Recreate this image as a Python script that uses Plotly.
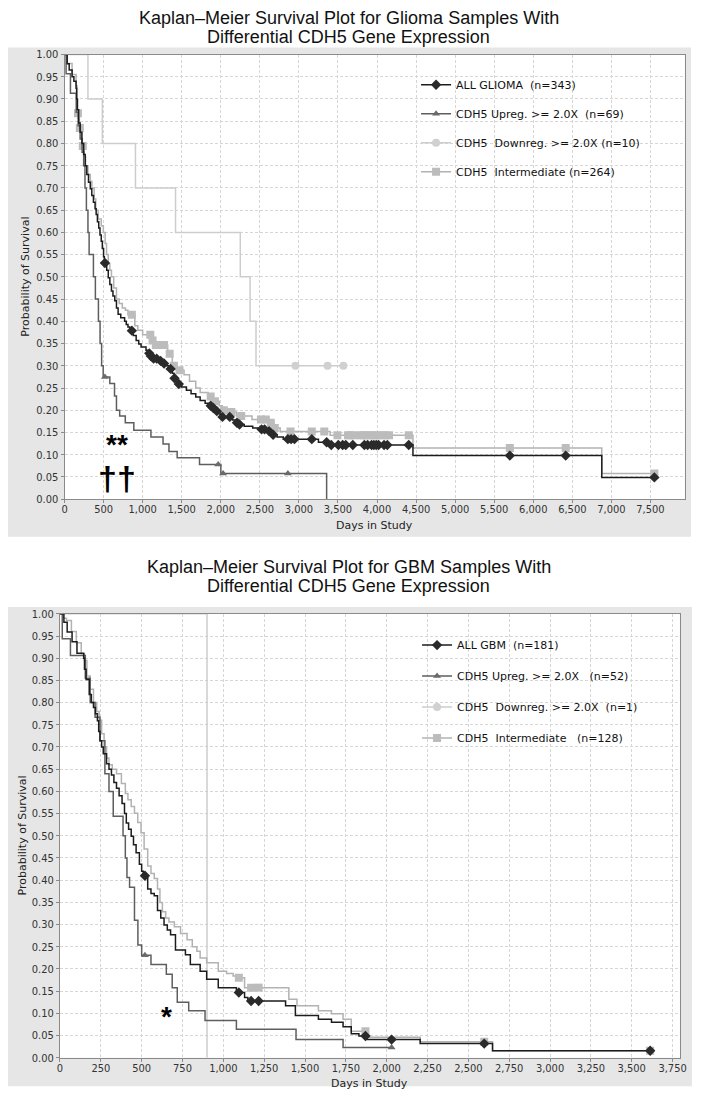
import plotly.graph_objects as go

# ---------------- Glioma (top) ----------------
# event times (days) and survival just after each event
glioma_all_t = [34, 60, 97, 120, 148, 155, 165, 181, 200, 223, 245, 265, 285, 307, 330, 349, 370, 391,
                405, 421, 438, 454, 470, 484, 500, 510, 540, 560, 580, 601, 620, 643, 665, 686, 720,
                769, 790, 812, 835, 880, 917, 950, 980, 1043, 1064, 1095, 1120, 1200, 1250, 1300, 1330,
                1380, 1400, 1440, 1500, 1560, 1620, 1680, 1736, 1800, 1850, 1890, 1930, 1990, 2010,
                2150, 2190, 2230, 2300, 2409, 2480, 2600, 2650, 2720, 2800, 3250, 3380, 4460, 6877]
glioma_all_s = [0.979, 0.965, 0.95, 0.94, 0.924, 0.90, 0.876, 0.846, 0.825, 0.80, 0.775, 0.75, 0.73,
                0.713, 0.698, 0.683, 0.668, 0.653, 0.64, 0.624, 0.61, 0.594, 0.58, 0.564, 0.545, 0.531,
                0.515, 0.498, 0.483, 0.468, 0.457, 0.446, 0.43, 0.416, 0.408, 0.40, 0.393, 0.387,
                0.379, 0.368, 0.357, 0.349, 0.342, 0.335, 0.328, 0.322, 0.316, 0.311, 0.305, 0.30,
                0.293, 0.283, 0.272, 0.259, 0.252, 0.245, 0.237, 0.23, 0.222, 0.216, 0.21, 0.205,
                0.198, 0.191, 0.185, 0.178, 0.172, 0.168, 0.164, 0.16, 0.157, 0.153, 0.145, 0.14,
                0.135, 0.128, 0.122, 0.098, 0.049]
glioma_all_c = [517, 862, 1085, 1105, 1140, 1180, 1230, 1274, 1358, 1408, 1463, 1871, 1905, 1950,
                2022, 2115, 2207, 2240, 2522, 2560, 2619, 2670, 2859, 2900, 2943, 3165, 3355, 3414,
                3505, 3560, 3600, 3690, 3838, 3880, 3930, 3960, 3990, 4020, 4090, 4132, 4406, 5700,
                6415, 7550]

glioma_up_t = [20, 76, 150, 175, 200, 225, 245, 262, 280, 300, 315, 370, 395, 434, 455, 475, 495,
               580, 640, 665, 706, 778, 887, 1106, 1261, 1337, 1442, 1728, 2001, 3355]
glioma_up_s = [0.957, 0.913, 0.87, 0.84, 0.81, 0.78, 0.75, 0.70, 0.65, 0.60, 0.55, 0.50, 0.45, 0.40,
               0.35, 0.30, 0.275, 0.26, 0.232, 0.20, 0.187, 0.172, 0.155, 0.14, 0.124, 0.107, 0.093,
               0.078, 0.058, 0.0]
glioma_up_c = [517, 1967, 2030, 2859]

glioma_down_t = [300, 484, 908, 1421, 2250, 2375, 2451]
glioma_down_s = [0.9, 0.8, 0.7, 0.6, 0.5, 0.4, 0.3]
glioma_down_c = [2956, 3367, 3569]

glioma_mid_t = [34, 97, 148, 160, 165, 190, 215, 228, 250, 270, 300, 330, 350, 380, 400, 430, 470,
                497, 520, 538, 560, 580, 601, 630, 665, 700, 740, 780, 812, 900, 938, 1000, 1110,
                1150, 1320, 1380, 1440, 1530, 1600, 1680, 1736, 1840, 1900, 1980, 2020, 2080, 2200,
                2400, 2600, 2680, 2760, 3400, 4460, 6877]
glioma_mid_s = [0.98, 0.955, 0.93, 0.90, 0.868, 0.835, 0.81, 0.794, 0.77, 0.75, 0.73, 0.715, 0.70,
                0.675, 0.65, 0.63, 0.615, 0.60, 0.575, 0.55, 0.53, 0.515, 0.50, 0.475, 0.45, 0.44,
                0.43, 0.425, 0.415, 0.39, 0.38, 0.37, 0.357, 0.347, 0.327, 0.30, 0.29, 0.28, 0.265,
                0.25, 0.24, 0.231, 0.22, 0.21, 0.20, 0.196, 0.187, 0.179, 0.172, 0.16, 0.152, 0.144,
                0.115, 0.058]
glioma_mid_c = [172, 196, 234, 862, 1098, 1127, 1169, 1200, 1240, 1274, 1346, 1400, 1472, 1871, 1925,
                2039, 2136, 2262, 2514, 2577, 2640, 2691, 2893, 3165, 3325, 3493, 3628, 3660, 3712,
                3796, 3830, 3870, 3920, 3960, 4000, 4050, 4100, 4154, 4406, 5700, 6415, 7550]

# ---------------- GBM (bottom) ----------------
gbm_all_t = [24, 44, 74, 104, 145, 150, 160, 179, 192, 205, 217, 229, 237, 245, 255, 265, 285, 300,
             315, 330, 346, 362, 380, 395, 406, 420, 436, 450, 466, 486, 500, 510, 537, 557, 577,
             597, 617, 637, 657, 677, 707, 768, 798, 858, 898, 969, 1080, 1130, 1150, 1381, 1441,
             1582, 1662, 1733, 1783, 1830, 1880, 2205, 2648]
gbm_all_s = [0.981, 0.959, 0.937, 0.911, 0.90, 0.875, 0.852, 0.818, 0.80, 0.789, 0.775, 0.759,
             0.735, 0.714, 0.70, 0.685, 0.662, 0.65, 0.637, 0.62, 0.607, 0.59, 0.573, 0.55, 0.529,
             0.515, 0.499, 0.48, 0.462, 0.436, 0.42, 0.41, 0.38, 0.37, 0.365, 0.332, 0.315, 0.299,
             0.288, 0.277, 0.243, 0.232, 0.21, 0.195, 0.177, 0.158, 0.147, 0.136, 0.128, 0.117,
             0.095, 0.087, 0.08, 0.07, 0.054, 0.049, 0.041, 0.032, 0.016]
gbm_all_c = [520, 1095, 1170, 1216, 1870, 2030, 2597, 3613]

gbm_up_t = [14, 64, 155, 185, 215, 245, 275, 300, 326, 386, 400, 410, 426, 456, 477, 500, 557, 651,
            687, 718, 788, 888, 1080, 1445, 1733]
gbm_up_s = [0.944, 0.906, 0.855, 0.80, 0.767, 0.714, 0.64, 0.60, 0.544, 0.50, 0.45, 0.406, 0.384,
            0.31, 0.254, 0.231, 0.21, 0.188, 0.158, 0.125, 0.106, 0.084, 0.064, 0.041, 0.023]
gbm_up_c = [520, 2030]

gbm_down_t = [900]
gbm_down_s = [0.0]
gbm_down_c = []

gbm_mid_t = [20, 40, 70, 100, 130, 150, 165, 185, 205, 225, 240, 255, 270, 285, 300, 320, 346, 376,
             400, 416, 436, 456, 476, 496, 515, 537, 557, 577, 597, 612, 627, 647, 667, 700, 738,
             778, 810, 838, 858, 898, 969, 1020, 1060, 1085, 1130, 1401, 1451, 1582, 1662, 1733,
             1783, 1880, 2205, 2648]
gbm_mid_s = [0.99, 0.985, 0.96, 0.935, 0.91, 0.895, 0.86, 0.83, 0.80, 0.78, 0.76, 0.73, 0.70, 0.675,
             0.66, 0.65, 0.64, 0.618, 0.595, 0.581, 0.566, 0.551, 0.53, 0.507, 0.47, 0.432, 0.415,
             0.404, 0.38, 0.35, 0.329, 0.315, 0.306, 0.295, 0.28, 0.266, 0.25, 0.24, 0.225, 0.214,
             0.195, 0.19, 0.184, 0.18, 0.158, 0.132, 0.117, 0.106, 0.099, 0.087, 0.06, 0.046,
             0.036, 0.016]
gbm_mid_c = [1095, 1170, 1216, 1870, 2597, 3613]

glioma_names = ["ALL GLIOMA\u00a0\u00a0(n=343)", "CDH5 Upreg. >= 2.0X\u00a0\u00a0(n=69)",
                "CDH5\u00a0\u00a0Downreg. >= 2.0X (n=10)", "CDH5\u00a0\u00a0Intermediate (n=264)"]
gbm_names = ["ALL GBM\u00a0\u00a0(n=181)", "CDH5 Upreg. >= 2.0X\u00a0\u00a0\u00a0(n=52)",
             "CDH5\u00a0\u00a0Downreg. >= 2.0X\u00a0\u00a0(n=1)", "CDH5\u00a0\u00a0Intermediate\u00a0\u00a0\u00a0(n=128)"]

# page body has an 8px margin, so the figure starts at (8, 8)
OFF = 8
W, H = 701 - OFF, 1105 - OFF
# group styles: line colour, marker colour, symbol, size
styles = [("#1c1c1c", "#2a2a2a", "diamond", 8),
          ("#5e5e5e", "#6a6a6a", "triangle-up", 7),
          ("#cdcdcd", "#d0d0d0", "circle", 8),
          ("#b2b2b2", "#bcbcbc", "square", 8)]


def surv_at(t, ev_t, ev_s):
    s = 1.0
    for a, b in zip(ev_t, ev_s):
        if a <= t:
            s = b
    return s


def add_km(fig, ev_t, ev_s, cens, style, name, xa, ya, leg, grp, rank):
    lc, mc, sym, ms = style
    xs = [0] + ev_t
    ys = [1.0] + ev_s
    if cens and max(cens) > ev_t[-1]:
        xs.append(max(cens))
        ys.append(ev_s[-1])
    fig.add_trace(go.Scatter(x=xs, y=ys, mode="lines", line=dict(color=lc, width=1.5, shape="hv"),
                             xaxis=xa, yaxis=ya, showlegend=False, hoverinfo="skip"))
    if cens:
        fig.add_trace(go.Scatter(x=cens, y=[surv_at(c, ev_t, ev_s) for c in cens], mode="markers",
                                 marker=dict(color=mc, symbol=sym, size=ms),
                                 xaxis=xa, yaxis=ya, showlegend=False))
    # legend entry
    fig.add_trace(go.Scatter(x=[None], y=[None], mode="lines+markers", name=name,
                             line=dict(color=lc, width=1.5), marker=dict(color=mc, symbol=sym, size=ms),
                             xaxis=xa, yaxis=ya, legend=leg, legendgroup=grp, legendrank=rank))


fig = go.Figure()
top = [(glioma_all_t, glioma_all_s, glioma_all_c), (glioma_up_t, glioma_up_s, glioma_up_c),
       (glioma_down_t, glioma_down_s, glioma_down_c), (glioma_mid_t, glioma_mid_s, glioma_mid_c)]
bot = [(gbm_all_t, gbm_all_s, gbm_all_c), (gbm_up_t, gbm_up_s, gbm_up_c),
       (gbm_down_t, gbm_down_s, gbm_down_c), (gbm_mid_t, gbm_mid_s, gbm_mid_c)]
order = [2, 3, 1, 0]  # draw light curves first
for i in order:
    t, s, c = top[i]
    add_km(fig, t, s, c, styles[i], glioma_names[i], "x", "y", "legend", "g%d" % i, i + 1)
for i in order:
    t, s, c = bot[i]
    add_km(fig, t, s, c, styles[i], gbm_names[i], "x2", "y2", "legend2", "b%d" % i, i + 1)

tickfont = dict(family="Liberation Sans Narrow, DejaVu Sans Condensed, Arial Narrow, sans-serif",
                size=11, color="#333333")
axis_common = dict(showline=True, linecolor="#8a8a8a", linewidth=1, mirror=True, ticks="outside",
                   ticklen=3, tickcolor="#8a8a8a", showgrid=True, gridcolor="#d6d6d6",
                   griddash="3px,2px", gridwidth=1, zeroline=False, tickfont=tickfont)

px = lambda v: (v - OFF) / W
py = lambda v: 1 - (v - OFF) / H

fig.update_layout(
    width=W, height=H, margin=dict(l=0, r=0, t=0, b=0),
    paper_bgcolor="white", plot_bgcolor="white",
    xaxis=dict(domain=[px(62.3), px(691.7)], range=[0, 7940], dtick=500, tickformat=",d",
               anchor="y", ticklabelstandoff=-3, **axis_common),
    yaxis=dict(domain=[py(499), py(49)], range=[0, 1], dtick=0.05, tickformat=".2f",
               anchor="x", **axis_common),
    xaxis2=dict(domain=[px(57.7), px(686.7)], range=[0, 3795], dtick=250, tickformat=",d",
                anchor="y2", ticklabelstandoff=-3, **axis_common),
    yaxis2=dict(domain=[py(1064.3), py(615)], range=[0, 1], dtick=0.05, tickformat=".2f",
                anchor="x2", **axis_common),
    legend=dict(x=px(419), y=py(65), xanchor="left", yanchor="top", bgcolor="rgba(0,0,0,0)",
                font=dict(family="DejaVu Sans", size=11, color="#111111"), tracegroupgap=10),
    legend2=dict(x=px(420), y=py(632), xanchor="left", yanchor="top", bgcolor="rgba(0,0,0,0)",
                 font=dict(family="DejaVu Sans", size=11, color="#111111"), tracegroupgap=12),
    shapes=[
        dict(type="rect", xref="paper", yref="paper", x0=px(4), x1=px(698), y0=py(537), y1=py(42),
             fillcolor="#e6e6e6", line=dict(width=0), layer="below"),
        dict(type="rect", xref="paper", yref="paper", x0=px(2), x1=px(699), y0=py(1093), y1=py(608),
             fillcolor="#e6e6e6", line=dict(width=0), layer="below"),
        dict(type="rect", xref="x domain", yref="y domain", x0=0, x1=1, y0=0, y1=1,
             fillcolor="white", line=dict(width=0), layer="below"),
        dict(type="rect", xref="x2 domain", yref="y2 domain", x0=0, x1=1, y0=0, y1=1,
             fillcolor="white", line=dict(width=0), layer="below"),
    ],
)

title_font = dict(family="Liberation Sans Narrow, Arial Narrow, Liberation Sans, sans-serif",
                  size=18, color="#111111")
label_font = dict(family="DejaVu Sans", size=11, color="#222222")
annots = [
    dict(text="Kaplan\u2013Meier Survival Plot for Glioma Samples With", x=px(350.5), y=py(12), font=title_font),
    dict(text="Differential CDH5 Gene Expression", x=px(350.5), y=py(31), font=title_font),
    dict(text="Kaplan\u2013Meier Survival Plot for GBM Samples With", x=px(350.5), y=py(568), font=title_font),
    dict(text="Differential CDH5 Gene Expression", x=px(350.5), y=py(587), font=title_font),
    dict(text="Days in Study", x=px(377), y=py(526), font=label_font),
    dict(text="Days in Study", x=px(372), y=py(1090), font=label_font),
    dict(text="Probability of Survival", x=px(23), y=py(274), textangle=-90, font=label_font),
    dict(text="Probability of Survival", x=px(20), y=py(839.5), textangle=-90, font=label_font),
]
for a in annots:
    fig.add_annotation(xref="paper", yref="paper", showarrow=False, xanchor="center",
                       yanchor="middle", **a)

fig.add_annotation(x=676, y=0.081, xref="x", yref="y", showarrow=False,
                   text="<b>**</b><br><span style='font-size:34px'><b>\u2020\u2020</b></span>",
                   font=dict(family="Liberation Sans, Arial, sans-serif", size=28, color="black"))
fig.add_annotation(x=651, y=0.093, xref="x2", yref="y2", text="<b>*</b>", showarrow=False,
                   font=dict(family="Liberation Sans, Arial, sans-serif", size=28, color="black"))

fig.write_html("out.html")
